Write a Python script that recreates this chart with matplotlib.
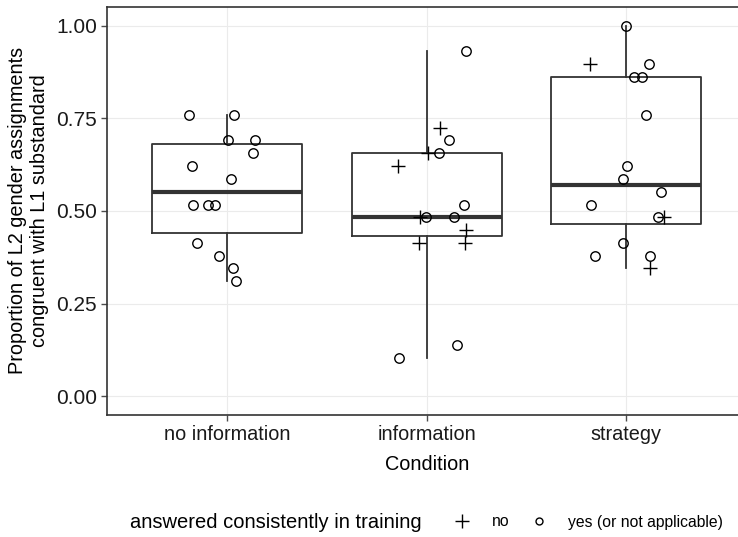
import matplotlib
matplotlib.use("Agg")
import matplotlib.pyplot as plt
from matplotlib.lines import Line2D

plt.rcParams['font.family'] = ['Liberation Sans', 'DejaVu Sans']

conditions = ["no information", "information", "strategy"]

# proportions per participant, horizontal jitter, consistent in training (1 = yes / n.a.)
noinfo_vals = [0.759, 0.759, 0.690, 0.690, 0.655, 0.621, 0.586, 0.517, 0.517, 0.517,
               0.414, 0.379, 0.345, 0.310]
noinfo_jit = [-0.194, 0.035, 0.002, 0.137, 0.127, -0.177, 0.017, -0.169, -0.097, -0.062,
              -0.150, -0.042, 0.030, 0.042]
noinfo_cons = [1, 1, 1, 1, 1, 1, 1, 1, 1, 1, 1, 1, 1, 1]

info_vals = [0.931, 0.690, 0.655, 0.517, 0.483, 0.483, 0.138, 0.103,
             0.724, 0.655, 0.621, 0.483, 0.448, 0.414, 0.414]
info_jit = [0.197, 0.112, 0.062, 0.188, -0.005, 0.135, 0.153, -0.139,
            0.067, 0.008, -0.142, -0.034, 0.197, -0.039, 0.193]
info_cons = [1, 1, 1, 1, 1, 1, 1, 1, 0, 0, 0, 0, 0, 0, 0]

strat_vals = [1.000, 0.897, 0.862, 0.862, 0.759, 0.621, 0.586, 0.552, 0.517, 0.483,
              0.414, 0.379, 0.379, 0.897, 0.483, 0.345]
strat_jit = [0.000, 0.112, 0.038, 0.078, 0.097, 0.003, -0.014, 0.172, -0.179, 0.158,
             -0.017, -0.159, 0.117, -0.180, 0.187, 0.117]
strat_cons = [1, 1, 1, 1, 1, 1, 1, 1, 1, 1, 1, 1, 1, 0, 0, 0]

groups = [(noinfo_vals, noinfo_jit, noinfo_cons),
          (info_vals, info_jit, info_cons),
          (strat_vals, strat_jit, strat_cons)]

dark = "#333333"
fig = plt.figure(figsize=(7.38, 5.37), dpi=100)
ax = fig.add_axes([107.5 / 738, 1 - 414.7 / 537, (746 - 107.5) / 738, (414.7 - 7) / 537])

ax.boxplot([g[0] for g in groups], positions=[1, 2, 3], widths=0.75, whis=1.5,
           showfliers=False, showcaps=False,
           boxprops=dict(color=dark, lw=1.3),
           whiskerprops=dict(color=dark, lw=1.3),
           medianprops=dict(color=dark, lw=3.0), zorder=2)

for i, (vals, jit, cons) in enumerate(groups):
    xs = [i + 1 + j for j in jit]
    xo = [x for x, c in zip(xs, cons) if c == 1]
    yo = [v for v, c in zip(vals, cons) if c == 1]
    xp = [x for x, c in zip(xs, cons) if c == 0]
    yp = [v for v, c in zip(vals, cons) if c == 0]
    ax.plot(xo, yo, 'o', mfc='none', mec='black', ms=6.8, mew=1.0, zorder=3)
    ax.plot(xp, yp, '+', color='black', ms=10, mew=1.0, zorder=3)

ax.set_xlim(0.4, 3.6)
ax.set_ylim(-0.05, 1.05)
ax.set_xticks([1, 2, 3])
ax.set_xticklabels(conditions)
ax.set_yticks([0, 0.25, 0.5, 0.75, 1.0])
ax.set_yticklabels(["0.00", "0.25", "0.50", "0.75", "1.00"])
ax.tick_params(axis='y', labelsize=15)
ax.tick_params(axis='x', labelsize=14.3)
ax.tick_params(axis='both', colors='#4d4d4d', labelcolor='#1a1a1a', length=4, width=1)
ax.grid(True, color='#ebebeb', lw=0.8, zorder=0)
ax.set_axisbelow(True)
for s in ax.spines.values():
    s.set_color(dark)
    s.set_linewidth(1.2)

ax.set_xlabel("Condition", fontsize=14.3, labelpad=8)
ax.set_ylabel("Proportion of L2 gender assignments\ncongruent with L1 substandard",
              fontsize=14.3, labelpad=5, linespacing=1.2)

fig.text(130 / 738, 15 / 537, "answered consistently in training", fontsize=14.5,
         va='center', ha='left')
handles = [Line2D([], [], ls='none', marker='+', color='black', ms=10, mew=1.0),
           Line2D([], [], ls='none', marker='o', mfc='none', mec='black', ms=5, mew=1.0)]
fig.legend(handles, ["no", "yes (or not applicable)"], ncol=2, frameon=False,
           fontsize=11.3, loc='center left', bbox_to_anchor=(438.5 / 738, 15 / 537),
           handlelength=1.2, handletextpad=1.3, columnspacing=1.25)

fig.savefig("out.png", dpi=100)
